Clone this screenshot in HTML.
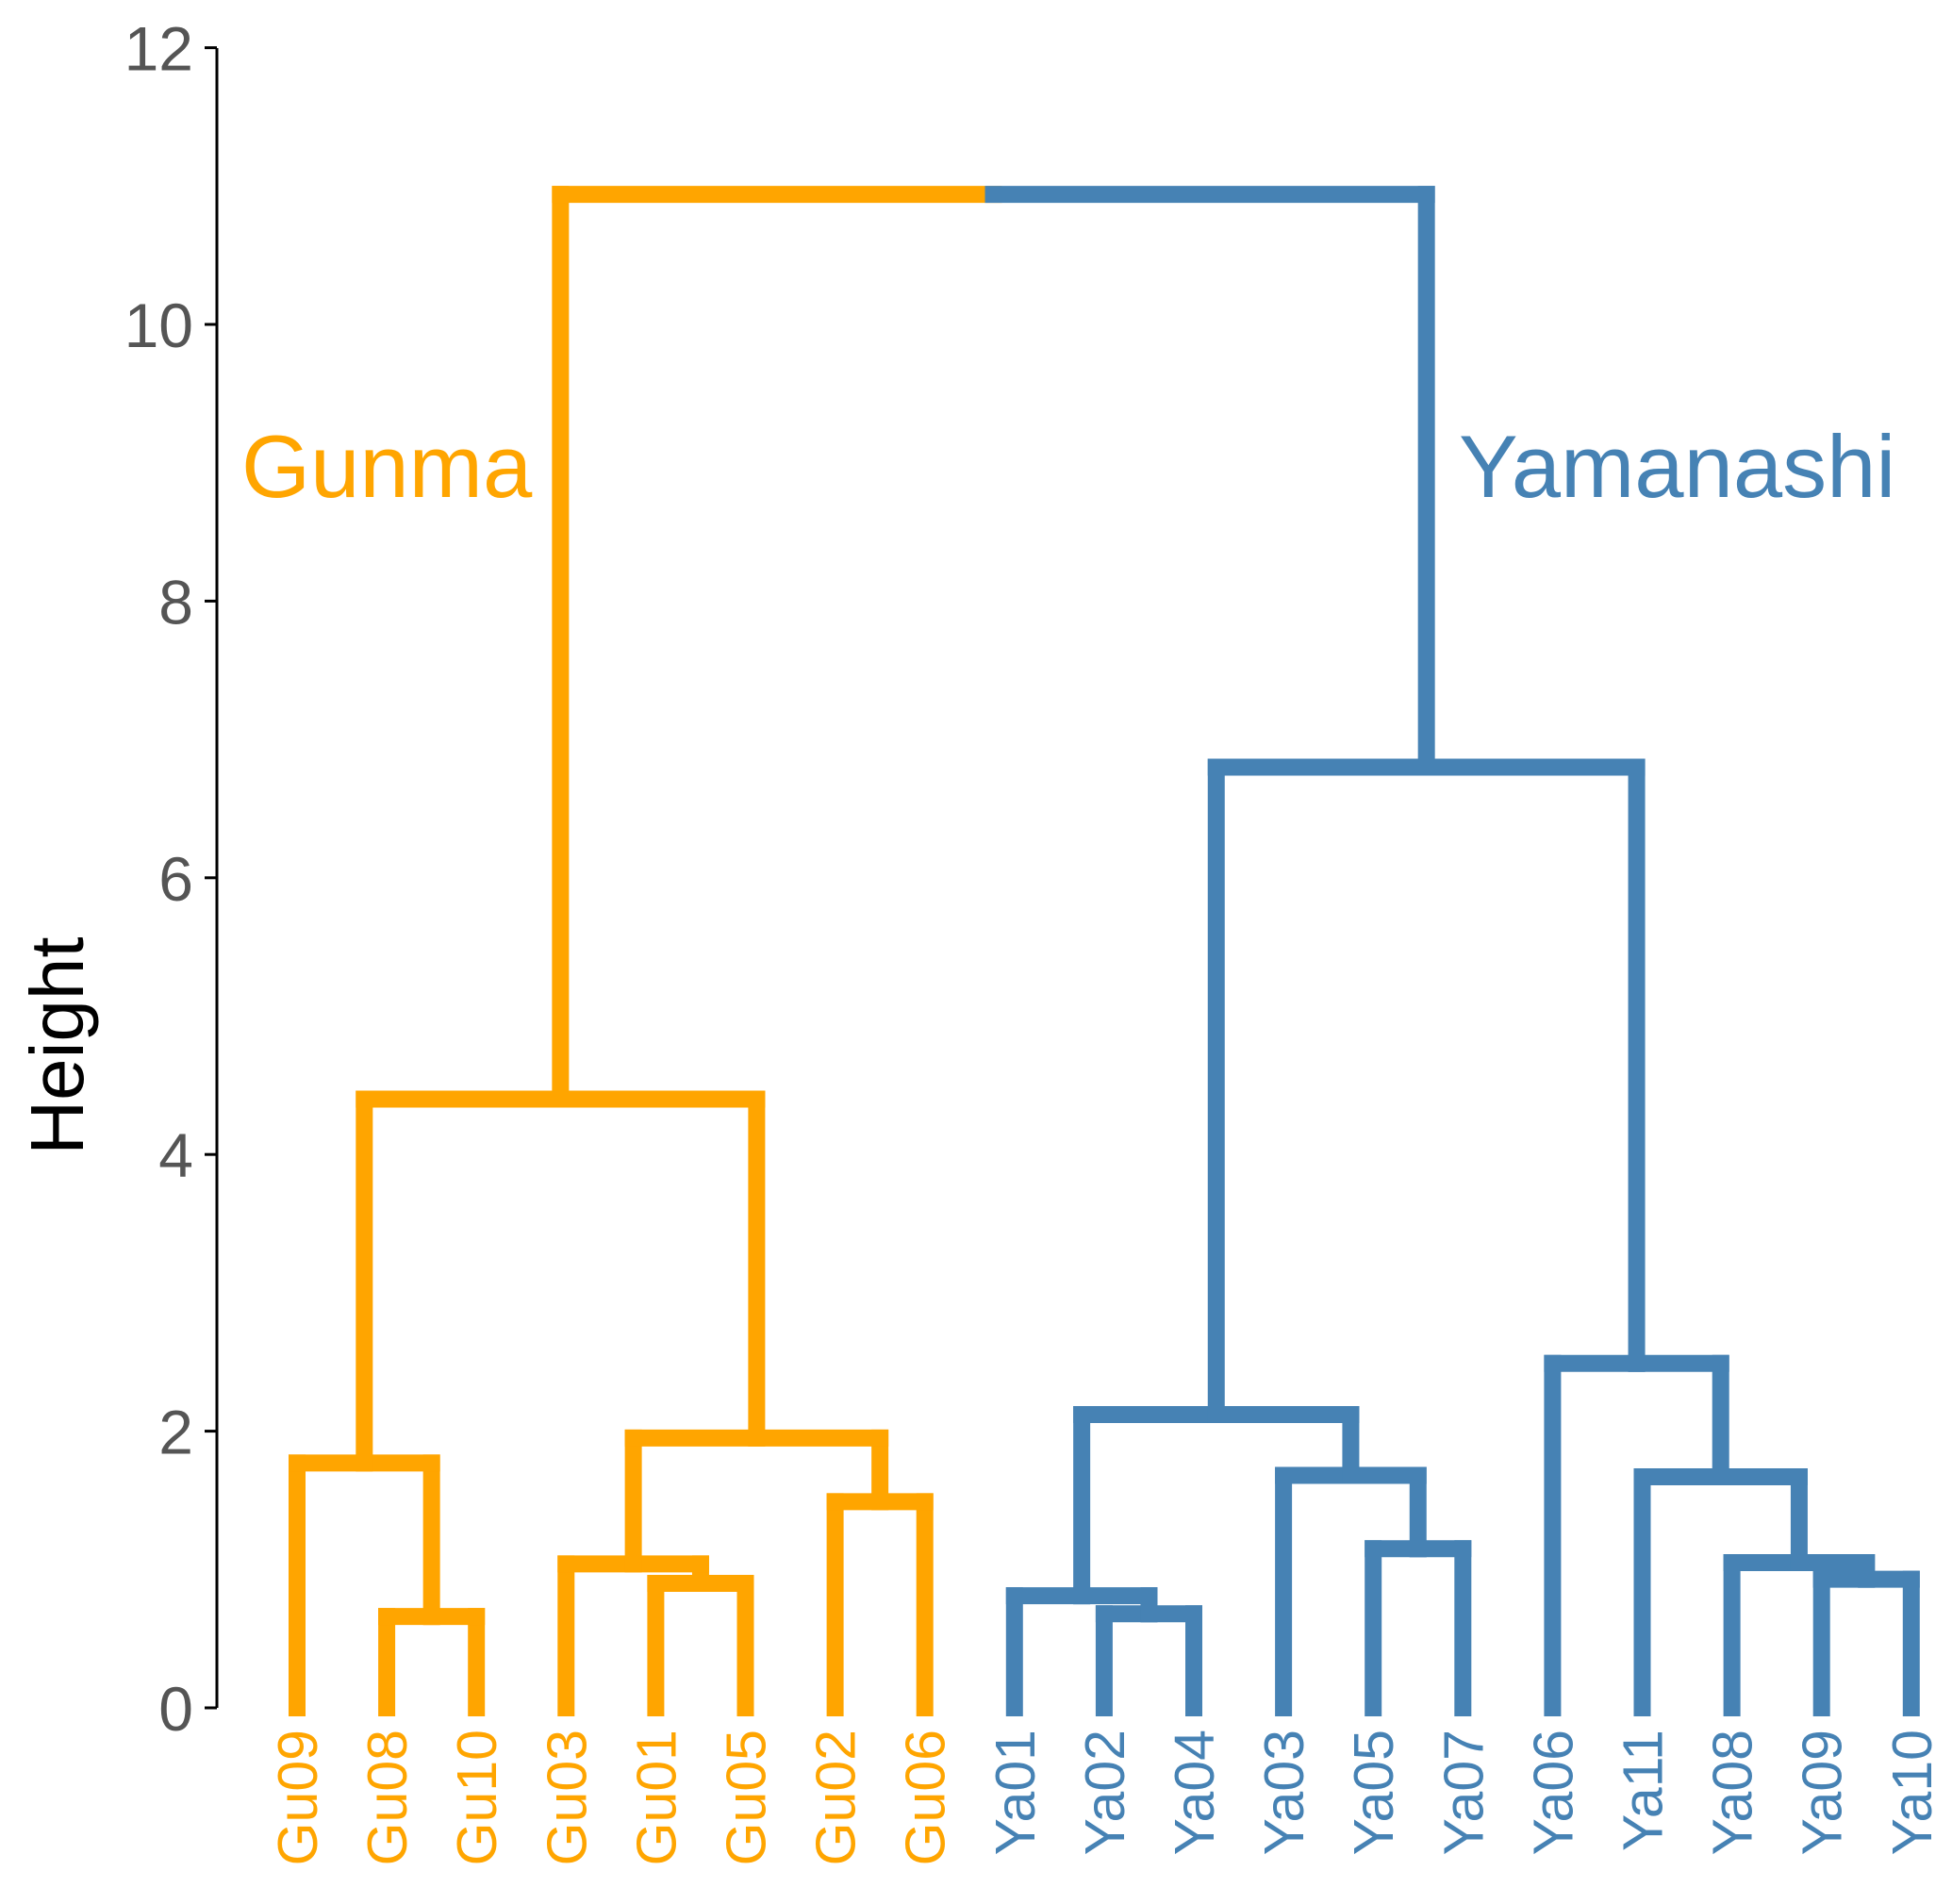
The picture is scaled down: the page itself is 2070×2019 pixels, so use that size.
<!DOCTYPE html>
<html><head><meta charset="utf-8"><style>
html,body{margin:0;padding:0;background:#fff;}
svg{display:block;font-family:"Liberation Sans",Arial,sans-serif;}
</style></head><body>
<svg id="chart" width="2070" height="2019" viewBox="0 0 2070 2019" xmlns="http://www.w3.org/2000/svg">
<line x1="230" y1="51" x2="230" y2="1811" stroke="#000" stroke-width="3"/>
<text transform="translate(88,1109) rotate(-90)" text-anchor="middle" font-size="80" fill="#000">Height</text>
<text x="256" y="527" font-size="94" fill="#FFA500">Gunma</text>
<text x="1547" y="527" font-size="94" fill="#4682B4">Yamanashi</text>
<g id="ticks"></g>
<g id="tree"></g>
<g id="labels"></g>
</svg>
<script>
const tickValues = [0, 2, 4, 6, 8, 10, 12];
const leafNames = ["Gu09","Gu08","Gu10","Gu03","Gu01","Gu05","Gu02","Gu06","Ya01","Ya02","Ya04","Ya03","Ya05","Ya07","Ya06","Ya11","Ya08","Ya09","Ya10"];
const leafGroups = ["Gu","Gu","Gu","Gu","Gu","Gu","Gu","Gu","Ya","Ya","Ya","Ya","Ya","Ya","Ya","Ya","Ya","Ya","Ya"];
const mergeHeights = [0.66, 0.9, 1.04, 1.77, 1.49, 1.95, 4.4, 0, 0.68, 0.81, 1.15, 1.68, 0.93, 1.05, 1.67, 2.49, 2.12, 6.8, 0, 10.94];
</script>
<script>
const NS="http://www.w3.org/2000/svg";
const xLeaf=i=>315+i*95.1;
const yScale=v=>1811-v*146.7;
const COL={Gu:"#FFA500",Ya:"#4682B4"};
const tg=document.getElementById("ticks");
tickValues.forEach(v=>{
  const l=document.createElementNS(NS,"line");
  l.setAttribute("x1",217);l.setAttribute("x2",230);l.setAttribute("y1",yScale(v));l.setAttribute("y2",yScale(v));
  l.setAttribute("stroke","#000");l.setAttribute("stroke-width","3");
  
  
  tg.appendChild(l);
  const t=document.createElementNS(NS,"text");
  t.setAttribute("x",205);t.setAttribute("y",yScale(v)+24);t.setAttribute("text-anchor","end");
  t.setAttribute("font-size","66");t.setAttribute("fill","#555");t.textContent=v;
  
  
  tg.appendChild(t);
});
function leaf(i){return {x:xLeaf(i),h:0,g:leafGroups[i]};}
function merge(a,b,h,name){
  const tree=document.getElementById("tree");
  const ga=a.g, gb=b.g;
  const mid=(a.x+b.x)/2;
  const seg=(x1,y1,x2,y2,c)=>{
    const l=document.createElementNS(NS,"line");
    l.setAttribute("x1",x1);l.setAttribute("y1",y1);l.setAttribute("x2",x2);l.setAttribute("y2",y2);
    l.setAttribute("stroke",c);l.setAttribute("stroke-width","18");l.setAttribute("stroke-linecap","square");
    
    
    tree.appendChild(l);
  };
  seg(a.x,yScale(a.h),a.x,yScale(h),COL[ga]);
  seg(b.x,yScale(b.h),b.x,yScale(h),COL[gb]);
  seg(a.x,yScale(h),mid,yScale(h),COL[ga]);
  seg(mid,yScale(h),b.x,yScale(h),COL[gb]);
  return {x:mid,h:h,g:ga===gb?ga:"Gu"};
}
const H=mergeHeights;
const g1=merge(leaf(1),leaf(2),H[0],"branch-gu08-gu10");
const g2=merge(leaf(0),g1,H[3],"branch-gu09");
const g3=merge(leaf(4),leaf(5),H[1],"branch-gu01-gu05");
const g4=merge(leaf(3),g3,H[2],"branch-gu03");
const g5=merge(leaf(6),leaf(7),H[4],"branch-gu02-gu06");
const g6=merge(g4,g5,H[5],"branch-gu-right");
const g7=merge(g2,g6,H[6],"branch-gunma");
const y1=merge(leaf(9),leaf(10),H[8],"branch-ya02-ya04");
const y2=merge(leaf(8),y1,H[9],"branch-ya01");
const y3=merge(leaf(12),leaf(13),H[10],"branch-ya05-ya07");
const y4=merge(leaf(11),y3,H[11],"branch-ya03");
const y5=merge(y2,y4,H[16],"branch-ya-left");
const y6=merge(leaf(17),leaf(18),H[12],"branch-ya09-ya10");
const y7=merge(leaf(16),y6,H[13],"branch-ya08");
const y8=merge(leaf(15),y7,H[14],"branch-ya11");
const y9=merge(leaf(14),y8,H[15],"branch-ya06");
const y10=merge(y5,y9,H[17],"branch-yamanashi");
const root=merge(g7,y10,H[19],"branch-root");
const lg=document.getElementById("labels");
leafNames.forEach((n,i)=>{
  const t=document.createElementNS(NS,"text");
  t.setAttribute("transform",`translate(${xLeaf(i)+21},1834) rotate(-90)`);
  t.setAttribute("text-anchor","end");t.setAttribute("font-size","59");
  t.setAttribute("fill",COL[leafGroups[i]]);t.textContent=n;
  
  
  lg.appendChild(t);
});
</script>
</body></html>
